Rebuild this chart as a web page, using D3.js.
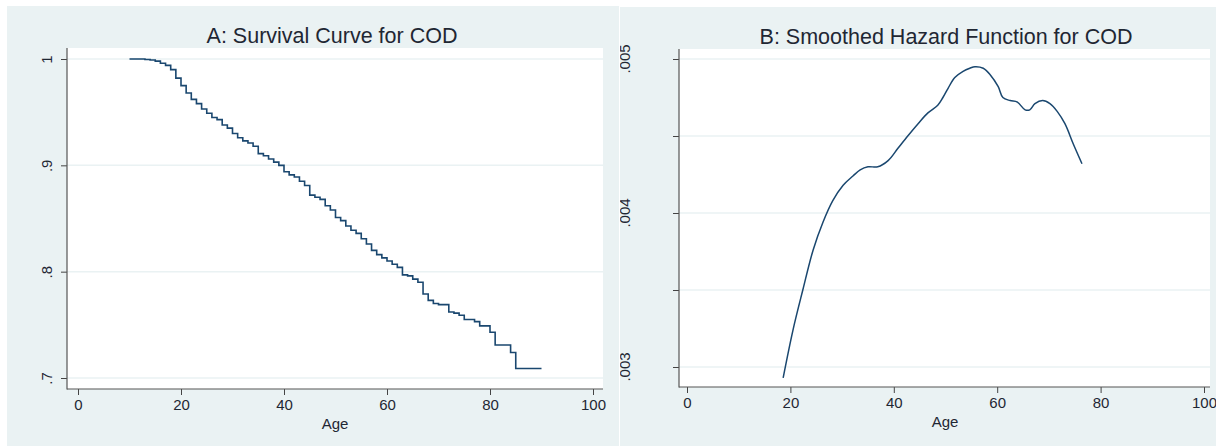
<!DOCTYPE html>
<html>
<head>
<meta charset="utf-8">
<script src="https://cdn.jsdelivr.net/npm/d3@7"></script>
<style>
  body { margin: 0; background: #fff; }
  svg { display: block; font-family: "Liberation Sans", Arial, sans-serif; }
</style>
</head>
<body>
<div id="chart"></div>
<script>
// survival step data (age at drop, survival after drop)
var survAge = [10, 13, 14, 15, 16, 17, 18, 19, 20, 21, 22, 23, 24, 25, 26, 27, 28, 29, 30,
  31, 32, 33, 34, 35, 36, 37, 38, 39, 40, 41, 42, 43, 44, 45, 46, 47, 48, 49, 50,
  51, 52, 53, 54, 55, 56, 57, 58, 59, 60, 61, 62, 63, 64, 65, 66, 67, 68, 69, 70,
  72, 73, 74, 75, 77, 78, 80, 81, 84, 85, 90];
var survVal = [1, .9995, .999, .998, .996, .994, .99, .982, .975, .968, .962, .958, .953, .949, .945, .943, .938, .935, .93,
  .926, .923, .921, .918, .911, .909, .906, .903, .9, .894, .891, .889, .885, .881, .872, .87, .868, .862, .858, .851,
  .848, .843, .839, .836, .831, .826, .82, .816, .813, .81, .807, .804, .797, .796, .793, .79, .779, .773, .77, .769,
  .762, .761, .759, .755, .753, .749, .743, .731, .724, .709, .709];

// smoothed hazard
var hazAge = [18.6, 20.5, 22.4, 24.4, 26.3, 28.2, 30.2, 32.1, 33.5, 35, 36.9, 38.9, 40.8, 42.7, 44.7, 46.6, 48.5, 49.5,
  50.5, 51.8, 53.4, 54.7, 55.7, 57.3, 58.6, 60.2, 61.1, 62.5, 63.9, 65.4, 66.3, 67.3, 68.8, 70.2, 71.6, 73.1, 74.7, 76.4];
var hazVal = [.00293, .00324, .0035, .00376, .00394, .00408, .00418, .00424, .00428, .0043, .0043, .00434, .00442, .0045,
  .00458, .00465, .0047, .00475, .00481, .00488, .00492, .00494, .00495, .00494, .0049, .00482, .00475, .00473, .00472,
  .00467, .00467, .00471, .00473, .00471, .00466, .00458, .00445, .00432];

var xTicks = [0, 20, 40, 60, 80, 100];
var survTicks = [1, .9, .8, .7];
var survLabels = ["1", ".9", ".8", ".7"];
var hazTicks = [.005, .0045, .004, .0035, .003];
var hazLabels = [".005", ".0045", ".004", ".0035", ".003"];

var bg = "#eaf2f3", ink = "#1a476f", txt = "#1f2733";

var svg = d3.select("#chart").append("svg")
  .attr("width", 1216).attr("height", 446);

// ---- panel A ----
var A = svg.append("g");
A.append("rect").attr("x", 7).attr("y", 6).attr("width", 612).attr("height", 440).attr("fill", bg);
A.append("rect").attr("x", 67).attr("y", 48).attr("width", 536).attr("height", 341).attr("fill", "#fff");

var xA = d3.scaleLinear().domain([0, 100]).range([78, 593]);
var yA = d3.scaleLinear().domain([.7, 1]).range([378, 59]);

A.selectAll("line.grid").data(survTicks).join("line")
  .attr("class", "grid")
  .attr("x1", 67).attr("x2", 603)
  .attr("y1", d => yA(d)).attr("y2", d => yA(d))
  .attr("stroke", bg).attr("stroke-width", 1.5);

var stepPts = survAge.map((a, i) => [a, survVal[i]]);
A.append("path")
  .attr("d", d3.line().x(d => xA(d[0])).y(d => yA(d[1])).curve(d3.curveStepAfter)(stepPts))
  .attr("fill", "none").attr("stroke", ink).attr("stroke-width", 1.6);

A.append("g").attr("transform", "translate(0,389)")
  .call(d3.axisBottom(xA).tickValues(xTicks).tickSize(6).tickSizeOuter(0).tickPadding(4))
  .call(g => g.select(".domain").remove())
  .call(g => g.selectAll("text").attr("font-size", 15).attr("fill", txt).attr("font-family", null))
  .call(g => g.selectAll("line").attr("stroke", "#444"));
A.append("g").attr("transform", "translate(67,0)")
  .call(d3.axisLeft(yA).tickValues(survTicks).tickFormat((d, i) => survLabels[i]).tickSize(6).tickSizeOuter(0))
  .call(g => g.select(".domain").remove())
  .call(g => g.selectAll("line").attr("stroke", "#444"))
  .call(g => g.selectAll("text")
    .attr("font-size", 15).attr("fill", txt).attr("font-family", null)
    .attr("x", null).attr("y", null).attr("dy", null).attr("text-anchor", "middle")
    .attr("transform", "translate(-15,0) rotate(-90)"));
A.append("line").attr("x1", 67).attr("x2", 67).attr("y1", 48).attr("y2", 389.5).attr("stroke", "#555").attr("stroke-width", 1.2);
A.append("line").attr("x1", 67).attr("x2", 603).attr("y1", 389).attr("y2", 389).attr("stroke", "#555").attr("stroke-width", 1.2);

A.append("text").attr("x", 332).attr("y", 43).attr("text-anchor", "middle")
  .attr("font-size", 21.5).attr("fill", txt).text("A: Survival Curve for COD");
A.append("text").attr("x", 335).attr("y", 429).attr("text-anchor", "middle")
  .attr("font-size", 15).attr("fill", txt).text("Age");

// ---- panel B ----
var B = svg.append("g");
B.append("rect").attr("x", 620).attr("y", 7).attr("width", 596).attr("height", 439).attr("fill", bg);
B.append("rect").attr("x", 679).attr("y", 49).attr("width", 531).attr("height", 338).attr("fill", "#fff");

var xB = d3.scaleLinear().domain([0, 100]).range([687, 1204]);
var yB = d3.scaleLinear().domain([.003, .005]).range([367, 59]);

B.selectAll("line.grid").data(hazTicks).join("line")
  .attr("class", "grid")
  .attr("x1", 679).attr("x2", 1210)
  .attr("y1", d => yB(d)).attr("y2", d => yB(d))
  .attr("stroke", bg).attr("stroke-width", 1.5);

var hazPts = hazAge.map((a, i) => [a, hazVal[i]]);
B.append("path")
  .attr("d", d3.line().x(d => xB(d[0])).y(d => yB(d[1])).curve(d3.curveCatmullRom)(hazPts))
  .attr("fill", "none").attr("stroke", ink).attr("stroke-width", 1.5);

B.append("g").attr("transform", "translate(0,387)")
  .call(d3.axisBottom(xB).tickValues(xTicks).tickSize(6).tickSizeOuter(0).tickPadding(4))
  .call(g => g.select(".domain").remove())
  .call(g => g.selectAll("text").attr("font-size", 15).attr("fill", txt).attr("font-family", null))
  .call(g => g.selectAll("line").attr("stroke", "#444"));

// y ticks; the in-between labels sit clipped against the panel edge
svg.append("defs").append("clipPath").attr("id", "sliver")
  .append("rect").attr("x", 613).attr("y", 0).attr("width", 4).attr("height", 446);
B.append("g").attr("transform", "translate(679,0)")
  .call(d3.axisLeft(yB).tickValues(hazTicks).tickFormat(() => "").tickSize(6).tickSizeOuter(0))
  .call(g => g.select(".domain").remove())
  .call(g => g.selectAll("line").attr("stroke", "#444"));
B.selectAll("text.ylab").data(hazTicks.filter((d, i) => i % 2 == 0)).join("text")
  .attr("class", "ylab")
  .attr("transform", d => "translate(630," + yB(d) + ") rotate(-90)")
  .attr("text-anchor", "middle").attr("font-size", 15).attr("fill", txt)
  .text(d => hazLabels[hazTicks.indexOf(d)]);
B.selectAll("text.ylab2").data(hazTicks.filter((d, i) => i % 2 == 1)).join("text")
  .attr("class", "ylab2")
  .attr("clip-path", "url(#sliver)")
  .attr("transform", d => "translate(617," + yB(d) + ") rotate(-90)")
  .attr("text-anchor", "middle").attr("font-size", 15).attr("fill", txt)
  .text(d => hazLabels[hazTicks.indexOf(d)]);
B.append("line").attr("x1", 619.5).attr("x2", 619.5).attr("y1", 7).attr("y2", 446).attr("stroke", "#fff").attr("stroke-width", 1);

B.append("line").attr("x1", 679).attr("x2", 679).attr("y1", 49).attr("y2", 387.5).attr("stroke", "#555").attr("stroke-width", 1.2);
B.append("line").attr("x1", 679).attr("x2", 1210).attr("y1", 387).attr("y2", 387).attr("stroke", "#555").attr("stroke-width", 1.2);

B.append("text").attr("x", 946).attr("y", 44).attr("text-anchor", "middle")
  .attr("font-size", 21.5).attr("fill", txt).text("B: Smoothed Hazard Function for COD");
B.append("text").attr("x", 945).attr("y", 427).attr("text-anchor", "middle")
  .attr("font-size", 15).attr("fill", txt).text("Age");
</script>
</body>
</html>
